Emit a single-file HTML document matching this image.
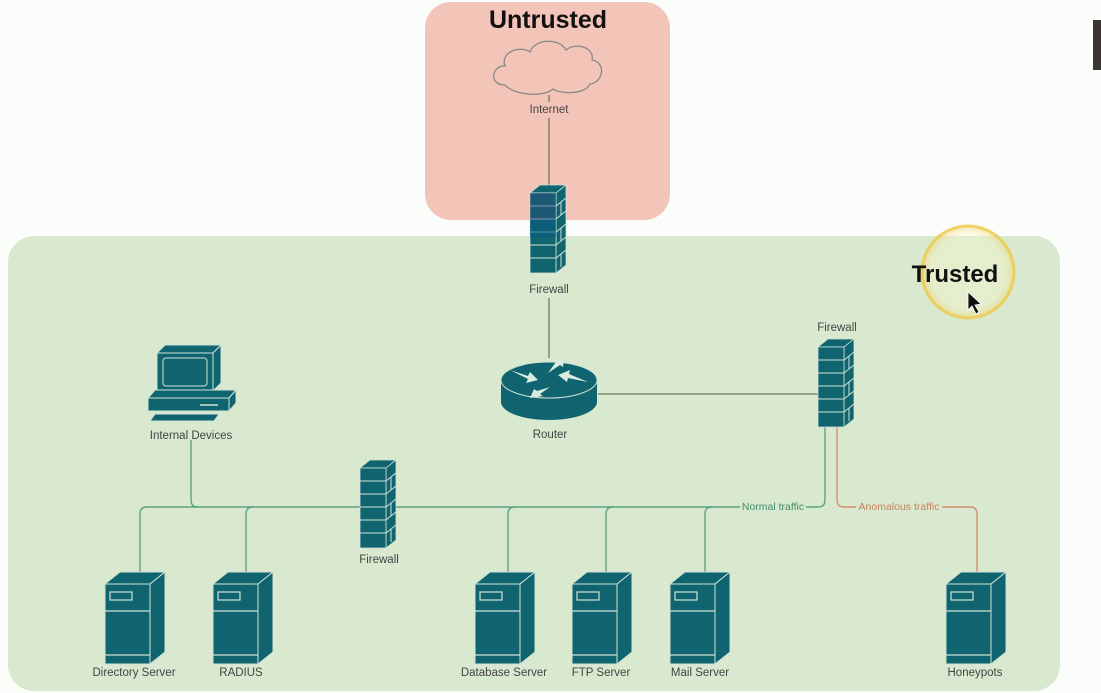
<!DOCTYPE html>
<html><head><meta charset="utf-8">
<style>
html,body{margin:0;padding:0;background:#fbfdfa;}
svg{display:block;font-family:"Liberation Sans",sans-serif;}
.lbl{font-size:11.5px;fill:#444;text-anchor:middle;}
</style></head><body>
<svg width="1101" height="693" viewBox="0 0 1101 693">
<defs>
<g id="srv">
  <polygon points="0,8 15,-4 60,-4 45,8" fill="#0f6470" stroke="#cfe3d4" stroke-width="1"/>
  <polygon points="45,8 60,-4 60,76 45,88" fill="#0f6470" stroke="#cfe3d4" stroke-width="1"/>
  <rect x="0" y="8" width="45" height="80" fill="#0f6470" stroke="#cfe3d4" stroke-width="1"/>
  <rect x="5" y="16" width="22" height="8" fill="none" stroke="#cfe3d4" stroke-width="1.2"/>
  <line x1="0" y1="35" x2="45" y2="35" stroke="#cfe3d4" stroke-width="1.2"/>
  <line x1="0" y1="79" x2="45" y2="79" stroke="#cfe3d4" stroke-width="1.2"/>
</g>
<g id="fw">
  <polygon points="0,8 10,0 36,0 26,8" fill="#0f6470" stroke="#cfe3d4" stroke-width="0.8"/>
  <polygon points="26,8 36,0 36,80 26,88" fill="#0f6470" stroke="#cfe3d4" stroke-width="0.8"/>
  <rect x="0" y="8" width="26" height="80" fill="#0f6470" stroke="#cfe3d4" stroke-width="0.8"/>
  <g stroke="#cfe3d4" stroke-width="1">
    <line x1="0" y1="21" x2="26" y2="21"/><line x1="0" y1="34" x2="26" y2="34"/>
    <line x1="0" y1="47" x2="26" y2="47"/><line x1="0" y1="60" x2="26" y2="60"/>
    <line x1="0" y1="73" x2="26" y2="73"/>
    <line x1="26" y1="21" x2="36" y2="13"/><line x1="26" y1="34" x2="36" y2="26"/>
    <line x1="26" y1="47" x2="36" y2="39"/><line x1="26" y1="60" x2="36" y2="52"/>
    <line x1="26" y1="73" x2="36" y2="65"/>
    <line x1="31" y1="17" x2="31" y2="30"/><line x1="31" y1="43" x2="31" y2="56"/><line x1="31" y1="69" x2="31" y2="82"/>
  </g>
</g>
<radialGradient id="glow" cx="50%" cy="50%" r="50%">
  <stop offset="0.8" stop-color="#fbf6c8" stop-opacity="0.35"/>
  <stop offset="1" stop-color="#f0d060" stop-opacity="0.5"/>
</radialGradient>
</defs>

<rect x="8" y="236" width="1052" height="455" rx="26" fill="#d9e9cf"/>
<rect x="425" y="2" width="245" height="218" rx="26" fill="#f3c5b9"/>
<text x="548" y="28" font-size="25" font-weight="bold" text-anchor="middle" fill="#111">Untrusted</text>

<path d="M505,85 C488,85 492,65 505,66 C500,52 520,45 530,52 C535,38 560,38 566,50 C575,42 595,47 592,60 C606,62 604,82 590,84 C585,95 560,94 553,89 C545,97 515,96 505,85 Z" fill="none" stroke="#888" stroke-width="1.3"/>
<text x="549" y="113" class="lbl">Internet</text>

<g stroke="#6b7a5e" stroke-width="1.3" fill="none">
  <line x1="549" y1="95" x2="549" y2="102"/>
  <line x1="549" y1="118" x2="549" y2="186"/>
  <line x1="549" y1="298" x2="549" y2="358"/>
  <line x1="598" y1="394" x2="818" y2="394"/>
</g>
<g stroke="#5aa382" stroke-width="1.4" fill="none">
  <path d="M191,440 V500 Q191,507 198,507"/>
  <path d="M147,507 H818 Q825,507 825,500 V426"/>
  <path d="M140,572 V514 Q140,507 147,507"/>
  <path d="M246,572 V514 Q246,507 253,507"/>
  <path d="M508,572 V514 Q508,507 515,507"/>
  <path d="M606,572 V514 Q606,507 613,507"/>
  <path d="M705,572 V514 Q705,507 712,507"/>
</g>
<path d="M837,426 V500 Q837,507 844,507 H970 Q977,507 977,514 V572" stroke="#d0916f" stroke-width="1.4" fill="none"/>
<rect x="740" y="500" width="66" height="13" fill="#d9e9cf"/>
<text x="773" y="510" font-size="10.5" fill="#3f8f6a" text-anchor="middle">Normal traffic</text>
<rect x="856" y="500" width="86" height="13" fill="#d9e9cf"/>
<text x="899" y="510" font-size="10.5" fill="#c8805c" text-anchor="middle">Anomalous traffic</text>

<use href="#fw" x="530" y="185"/>
<rect x="530" y="220" width="26" height="17" fill="#0b5a80" opacity="0.6"/>
<rect x="530" y="193" width="26" height="27" fill="#2b4d78" opacity="0.5"/>
<text x="549" y="293" class="lbl">Firewall</text>

<g>
  <path d="M501,380 V402 A48,18 0 0 0 597,402 V380 Z" fill="#0f6470"/>
  <ellipse cx="549" cy="380" rx="48" ry="18" fill="#0f6470" stroke="#cfe3d4" stroke-width="1"/>
  <g fill="#d8ecdf">
    <polygon points="510,370 528,376 530,372 538,380 526,383 528,379"/>
    <polygon points="588,382 568,378 567,382 558,375 570,370 569,374"/>
    <polygon points="548,373 556,362 552,361 564,358 563,367 560,365"/>
    <polygon points="550,387 540,394 543,396 530,398 534,389 537,391"/>
  </g>
</g>
<text x="550" y="438" class="lbl">Router</text>

<use href="#fw" x="818" y="339"/>
<text x="837" y="331" class="lbl">Firewall</text>

<use href="#fw" x="360" y="460"/>
<text x="379" y="563" class="lbl">Firewall</text>

<g fill="#0f6470" stroke="#cfe3d4" stroke-width="1">
  <polygon points="157,353 165,345 221,345 213,353"/>
  <polygon points="213,353 221,345 221,383 213,391"/>
  <rect x="157" y="353" width="56" height="38"/>
  <rect x="163" y="358" width="44" height="28" rx="3" fill="#0f6470"/>
  <polygon points="148,398 155,390 236,390 229,398"/>
  <polygon points="229,398 236,390 236,403 229,411"/>
  <rect x="148" y="398" width="81" height="13"/>
  <polygon points="150,421 155,414 219,414 214,421"/>
</g>
<line x1="200" y1="405" x2="218" y2="405" stroke="#cfe3d4" stroke-width="1.5"/>
<text x="191" y="439" class="lbl">Internal Devices</text>

<use href="#srv" x="105" y="576"/>
<use href="#srv" x="213" y="576"/>
<use href="#srv" x="475" y="576"/>
<use href="#srv" x="572" y="576"/>
<use href="#srv" x="670" y="576"/>
<use href="#srv" x="946" y="576"/>
<text x="134" y="676" class="lbl">Directory Server</text>
<text x="241" y="676" class="lbl">RADIUS</text>
<text x="504" y="676" class="lbl">Database Server</text>
<text x="601" y="676" class="lbl">FTP Server</text>
<text x="700" y="676" class="lbl">Mail Server</text>
<text x="975" y="676" class="lbl">Honeypots</text>

<circle cx="968" cy="272" r="46" fill="url(#glow)" stroke="#ecc84a" stroke-width="3" stroke-opacity="0.8"/>
<text x="955" y="282" font-size="24" font-weight="bold" text-anchor="middle" fill="#111">Trusted</text>
<polygon points="968,292 968,310 972,306 976,314 979,312 975,305 981,304" fill="#111" stroke="#fff" stroke-width="0.8"/>

<rect x="1093" y="20" width="8" height="50" fill="#3a3530"/>
</svg>
</body></html>
